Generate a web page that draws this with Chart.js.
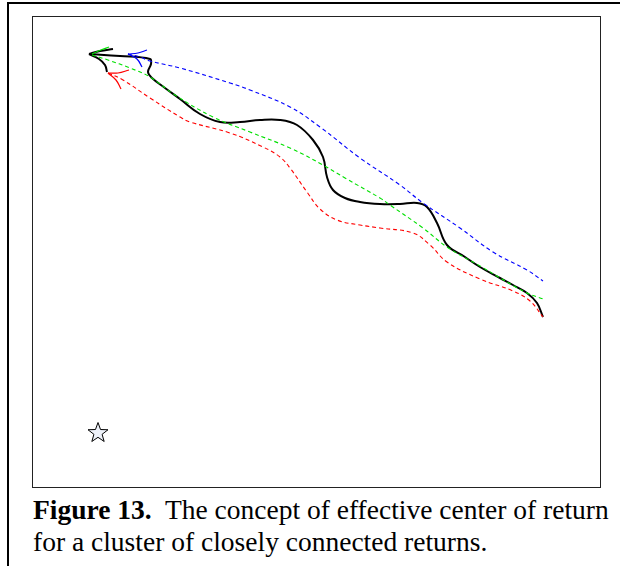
<!DOCTYPE html>
<html>
<head>
<meta charset="utf-8">
<script src="https://cdn.jsdelivr.net/npm/chart.js@4/dist/chart.umd.min.js"></script>
<style>
  html, body { margin: 0; padding: 0; background: #fff; width: 620px; height: 566px; overflow: hidden; }
  #outer { position: absolute; left: 7px; top: 2px; width: 700px; height: 700px; border-left: 2px solid #000; border-top: 2px solid #000; }
  #box { position: absolute; left: 32px; top: 16px; width: 567px; height: 470px; border: 1px solid #222; }
  #box canvas { display: block; }
  #cap { position: absolute; left: 33px; top: 494px; font-family: "Liberation Serif", "Times New Roman", serif; font-size: 27.5px; line-height: 32px; color: #000; white-space: nowrap; }
</style>
</head>
<body>
<div id="outer"></div>
<div id="box"><canvas id="c" width="567" height="470"></canvas></div>
<div id="cap"><b>Figure 13.</b>&nbsp; The concept of effective center of return<br>for a cluster of closely connected returns.</div>
<script>
// Schematic coordinates (arbitrary units, x: 0-567, y: 0-470)
const blackX = [56, 87, 117, 118, 115, 119, 132, 147, 167, 187, 207, 227, 247, 264, 280, 290, 294, 300, 312, 327, 347, 367, 384, 394, 404, 414, 432, 447, 467, 480, 494, 504, 510];
const blackY = [433, 431, 428, 423, 415, 409, 399, 388, 373, 365, 365, 367, 367, 362, 347, 330, 310, 297, 289, 285, 283, 283, 284, 280, 264, 242, 230, 220, 209, 202, 194, 184, 170];
const greenX = [59, 75, 97, 117, 142, 180, 217, 257, 290, 312, 347, 357, 390, 414, 447, 492, 510];
const greenY = [432, 427, 419, 410, 392, 370, 355, 339, 322, 309, 289, 282, 259, 240, 221, 195, 188];
const blueX = [95, 107, 117, 147, 197, 217, 257, 287, 327, 367, 390, 427, 460, 494, 510];
const blueY = [433, 430, 426, 419, 404, 397, 380, 360, 329, 302, 284, 259, 235, 217, 206];
const redX = [75, 90, 117, 147, 157, 197, 230, 247, 257, 274, 287, 304, 327, 347, 380, 397, 414, 447, 480, 497, 510];
const redY = [414, 407, 389, 370, 365, 354, 340, 330, 319, 295, 278, 267, 262, 259, 254, 242, 225, 208, 196, 186, 170];
// arrow barbs at the starting tips
const blackBarb1X = [56, 67, 80], blackBarb1Y = [433, 436, 438];
const blackBarb2X = [56, 66, 72, 74], blackBarb2Y = [433, 428, 422, 415];
const greenBarbX = [59, 68, 76], greenBarbY = [433, 437, 440];
const blueBarb1X = [95, 105, 114], blueBarb1Y = [433, 434, 437];
const blueBarb2X = [95, 104, 109], blueBarb2Y = [433, 428, 420];
const redBarb1X = [75, 85, 96], redBarb1Y = [414, 414, 417];
const redBarb2X = [75, 83, 88], redBarb2Y = [414, 407, 398];
// effective center of return (star)
const starX = [65], starY = [55];

const pts = (xs, ys) => xs.map((x, i) => ({ x: x, y: ys[i] }));

function starImage() {
  const s = 24, cv = document.createElement('canvas');
  cv.width = s; cv.height = s;
  const g = cv.getContext('2d');
  const cx = s / 2, cy = s / 2 + 1, R = 10.5, r = 4.3;
  g.beginPath();
  for (let i = 0; i < 10; i++) {
    const a = -Math.PI / 2 + i * Math.PI / 5;
    const rr = i % 2 === 0 ? R : r;
    const px = cx + rr * Math.cos(a), py = cy + rr * Math.sin(a);
    i === 0 ? g.moveTo(px, py) : g.lineTo(px, py);
  }
  g.closePath();
  g.fillStyle = '#eef2fa';
  g.fill();
  g.lineWidth = 1;
  g.strokeStyle = '#000';
  g.stroke();
  return cv;
}

const solid = (data, color, w) => ({ data, borderColor: color, borderWidth: w, showLine: true, pointRadius: 0, tension: 0.4, fill: false });
const dashed = (data, color) => ({ data, borderColor: color, borderWidth: 1.1, borderDash: [4, 3], showLine: true, pointRadius: 0, tension: 0.4, fill: false });

new Chart(document.getElementById('c'), {
  type: 'scatter',
  data: {
    datasets: [
      dashed(pts(blueX, blueY), '#0000ff'),
      dashed(pts(redX, redY), '#ff0000'),
      dashed(pts(greenX, greenY), '#00e000'),
      solid(pts(greenBarbX, greenBarbY), '#00e000', 1.2),
      solid(pts(blueBarb1X, blueBarb1Y), '#0000ff', 1.2),
      solid(pts(blueBarb2X, blueBarb2Y), '#0000ff', 1.2),
      solid(pts(redBarb1X, redBarb1Y), '#ff0000', 1.2),
      solid(pts(redBarb2X, redBarb2Y), '#ff0000', 1.2),
      solid(pts(blackX, blackY), '#000000', 2),
      solid(pts(blackBarb1X, blackBarb1Y), '#000000', 2),
      solid(pts(blackBarb2X, blackBarb2Y), '#000000', 2),
      { data: pts(starX, starY), showLine: false, pointStyle: starImage(), pointRadius: 12 }
    ]
  },
  options: {
    responsive: false,
    animation: false,
    layout: { padding: 0, autoPadding: false },
    plugins: { legend: { display: false }, tooltip: { enabled: false } },
    scales: {
      x: { type: 'linear', min: 0, max: 567, display: false },
      y: { type: 'linear', min: 0, max: 470, display: false }
    }
  }
});
</script>
</body>
</html>
